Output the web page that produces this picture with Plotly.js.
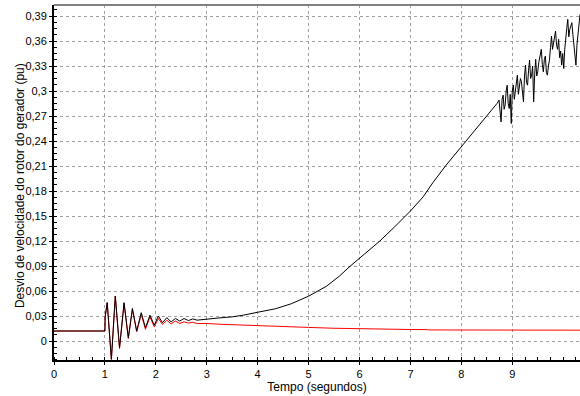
<!DOCTYPE html>
<html>
<head>
<meta charset="utf-8">
<script src="https://cdn.plot.ly/plotly-3.0.1.min.js"></script>
<style>html,body{margin:0;padding:0;background:#fff;}#chart{width:580px;height:396px;}</style>
</head>
<body>
<div id="chart"></div>
<script>
// Black series: generator rotor speed deviation (unstable case)
var blackT = [0, 1.0, 1.005, 1.045, 1.127, 1.204, 1.287, 1.376, 1.46, 1.54, 1.624, 1.713, 1.796, 1.885, 1.968, 2.05, 2.13, 2.215, 2.3, 2.385, 2.47, 2.555, 2.64, 2.725, 2.81, 3.0, 3.3, 3.5, 3.72, 4.0, 4.35, 4.66, 5.0, 5.35, 5.6, 5.82, 6.0, 6.2, 6.4, 6.69, 6.91, 7.0, 7.25, 7.44, 7.7, 8.0, 8.33, 8.68,
  8.70, 8.74, 8.78, 8.80, 8.82, 8.84, 8.86, 8.88, 8.90, 8.92, 8.94, 8.96, 8.98, 9.00, 9.02, 9.04, 9.06, 9.08, 9.10, 9.12, 9.14, 9.16, 9.18, 9.20, 9.22, 9.24, 9.26, 9.28, 9.30, 9.32, 9.34, 9.36, 9.38, 9.40, 9.42, 9.44, 9.46, 9.48, 9.50, 9.52, 9.54, 9.57, 9.59, 9.61, 9.63, 9.65, 9.67, 9.69, 9.71, 9.73, 9.75, 9.77, 9.79, 9.81, 9.83, 9.85, 9.87, 9.89, 9.91, 9.93, 9.95, 9.97, 9.99, 10.01, 10.03, 10.05, 10.07, 10.09, 10.11, 10.13, 10.15, 10.17, 10.19, 10.21, 10.23, 10.25, 10.27, 10.29, 10.31, 10.33];
var blackV = [0.012, 0.012, 0.029, 0.046, -0.022, 0.054, -0.008, 0.046, 0.004, 0.039, 0.012, 0.034, 0.016, 0.031, 0.019, 0.030, 0.022, 0.028, 0.023, 0.027, 0.024, 0.027, 0.0245, 0.0265, 0.025, 0.0265, 0.028, 0.029, 0.031, 0.0345, 0.0387, 0.0447, 0.0538, 0.0657, 0.0776, 0.090, 0.0995, 0.109, 0.120, 0.137, 0.150, 0.156, 0.173, 0.190, 0.211, 0.233, 0.258, 0.284,
  0.285, 0.289, 0.263, 0.290, 0.295, 0.278, 0.283, 0.300, 0.307, 0.285, 0.279, 0.296, 0.261, 0.300, 0.307, 0.290, 0.299, 0.312, 0.319, 0.296, 0.303, 0.315, 0.311, 0.300, 0.287, 0.318, 0.331, 0.310, 0.307, 0.325, 0.337, 0.315, 0.319, 0.330, 0.287, 0.320, 0.338, 0.318, 0.323, 0.334, 0.342, 0.350, 0.332, 0.323, 0.338, 0.342, 0.322, 0.319, 0.330, 0.337, 0.352, 0.366, 0.350, 0.358, 0.365, 0.372, 0.355, 0.350, 0.362, 0.340, 0.348, 0.331, 0.345, 0.327, 0.350, 0.366, 0.375, 0.386, 0.365, 0.374, 0.380, 0.382, 0.368, 0.358, 0.345, 0.331, 0.355, 0.370, 0.380, 0.392];

// Red series: generator rotor speed deviation (stable case)
var redT = [0, 1.0, 1.005, 1.045, 1.127, 1.204, 1.287, 1.376, 1.46, 1.54, 1.624, 1.713, 1.796, 1.885, 1.968, 2.05, 2.13, 2.215, 2.3, 2.385, 2.47, 2.555, 2.64, 2.725, 2.81, 3.0, 3.3, 3.6, 4.0, 4.5, 5.0, 5.5, 6.0, 6.5, 7.0, 7.33, 7.35, 8.0, 9.0, 10.33];
var redV = [0.012, 0.012, 0.029, 0.046, -0.022, 0.054, -0.009, 0.045, 0.003, 0.038, 0.011, 0.032, 0.014, 0.029, 0.017, 0.027, 0.020, 0.025, 0.0205, 0.024, 0.021, 0.023, 0.0215, 0.0225, 0.021, 0.021, 0.020, 0.0195, 0.0188, 0.0175, 0.0163, 0.0153, 0.0146, 0.0141, 0.0138, 0.0137, 0.0133, 0.0132, 0.0131, 0.013];

var xTickVals = [0, 1, 2, 3, 4, 5, 6, 7, 8, 9];
var xTickText = ['0', '1', '2', '3', '4', '5', '6', '7', '8', '9'];
var yTickVals = [0, 0.03, 0.06, 0.09, 0.12, 0.15, 0.18, 0.21, 0.24, 0.27, 0.30, 0.33, 0.36, 0.39];
var yTickText = ['0', '0,03', '0,06', '0,09', '0,12', '0,15', '0,18', '0,21', '0,24', '0,27', '0,3', '0,33', '0,36', '0,39'];
var yTitle = 'Desvio de velocidade do rotor do gerador (pu)';

var traces = [
  {x: redT, y: redV, type: 'scatter', mode: 'lines', line: {color: '#ff0000', width: 1}, hoverinfo: 'skip'},
  {x: blackT, y: blackV, type: 'scatter', mode: 'lines', line: {color: '#000000', width: 1}, hoverinfo: 'skip'}
];

var layout = {
  width: 580, height: 396,
  margin: {l: 54, r: 0, t: 5, b: 36},
  paper_bgcolor: '#ffffff', plot_bgcolor: '#ffffff',
  showlegend: false,
  font: {family: 'Liberation Sans, Arial, sans-serif', size: 11, color: '#000'},
  xaxis: {
    range: [0, 10.33], tickvals: xTickVals, ticktext: xTickText,
    showgrid: true, gridcolor: '#a0a0a0', griddash: '3px,3px', gridwidth: 1,
    zeroline: false, showline: true, linecolor: '#000', linewidth: 2,
    ticks: 'outside', ticklen: 3, tickcolor: '#000',
    minor: {dtick: 0.25, ticks: 'inside', ticklen: 3, tickcolor: '#000', showgrid: false},
    title: {text: 'Tempo (segundos)', font: {size: 12}, standoff: 2},
    tickfont: {size: 11}
  },
  yaxis: {
    range: [-0.0228, 0.4032], tickvals: yTickVals, ticktext: yTickText,
    showgrid: true, gridcolor: '#a0a0a0', griddash: '3px,3px', gridwidth: 1,
    zeroline: false, showline: true, linecolor: '#000', linewidth: 2,
    ticks: 'outside', ticklen: 3, tickcolor: '#000',
    minor: {dtick: 0.0075, ticks: 'inside', ticklen: 3, tickcolor: '#000', showgrid: false},
    tickfont: {size: 11}
  },
  annotations: [
    {text: yTitle, xref: 'paper', yref: 'paper', x: -0.0646, y: 0.49, xanchor: 'center', yanchor: 'middle',
     textangle: -90, showarrow: false, font: {size: 12, color: '#000'}}
  ],
  shapes: [
    {type: 'line', xref: 'paper', yref: 'paper', x0: 0, x1: 1, y0: 1, y1: 1, line: {color: '#808080', width: 2}}
  ]
};

Plotly.newPlot('chart', traces, layout, {staticPlot: true, displayModeBar: false});
</script>
</body>
</html>
